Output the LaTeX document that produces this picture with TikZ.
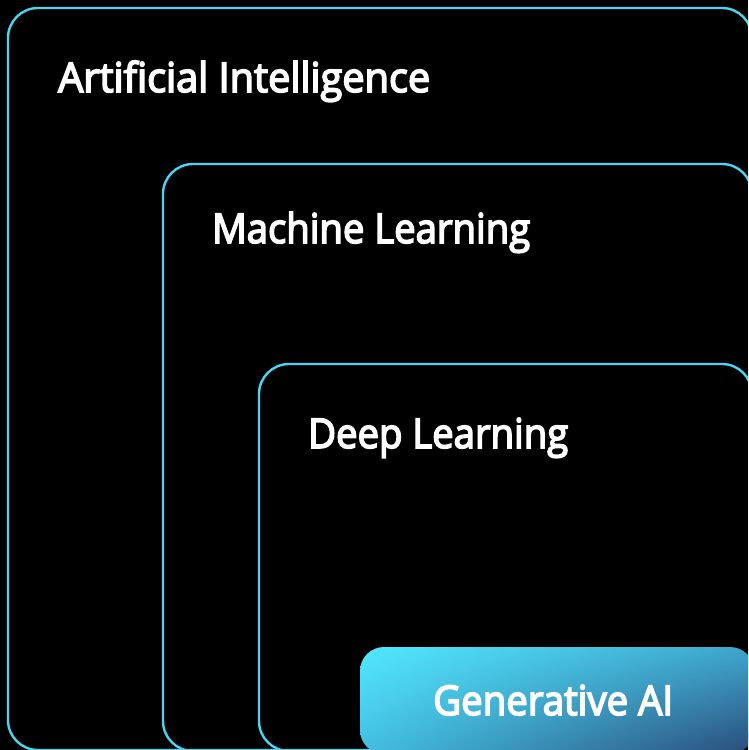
\documentclass[tikz,border=0pt]{standalone}
\usepackage{fontspec}
\setmainfont{Open Sans}
\newfontfamily\lblfont{Open Sans}[FakeBold=4]
\usetikzlibrary{shadings}
\definecolor{linecyan}{RGB}{74,212,240}
\definecolor{gUL}{RGB}{82,232,255}
\definecolor{gUR}{RGB}{62,165,205}
\definecolor{gLL}{RGB}{66,190,225}
\definecolor{gLR}{RGB}{42,74,120}
\begin{document}
\begin{tikzpicture}[x=1pt,y=-1pt,
  layer/.style={draw=linecyan, line width=2.4pt, rounded corners=30pt, anchor=north west, inner sep=0pt, outer sep=0pt},
  genbox/.style={rounded corners=24pt, anchor=north west, inner sep=0pt, outer sep=0pt,
     upper left=gUL, upper right=gUR, lower left=gLL, lower right=gLR},
  lbl/.style={text=white, font=\fontsize{41}{48}\lblfont, anchor=base west, inner sep=0pt}]
\useasboundingbox (0,0) rectangle (748,750);
\clip (0,0) rectangle (748,750);
\fill[black] (0,0) rectangle (748,750);
\node[layer, minimum width=744pt, minimum height=742pt] (aibox) at (8,8) {};
\node[layer, minimum width=589pt, minimum height=587pt] (mlbox) at (163,164) {};
\node[layer, minimum width=493pt, minimum height=387pt] (dlbox) at (259,364) {};
\node[genbox, minimum width=394pt, minimum height=107pt] (genbox) at (360,647) {};
\node[lbl] (ai) at (58,92) {\resizebox{372pt}{\height}{Artificial Intelligence}};
\node[lbl] (ml) at (212,243) {\resizebox{318pt}{\height}{Machine Learning}};
\node[lbl] (dl) at (308,448) {\resizebox{260pt}{\height}{Deep Learning}};
\node[lbl] (gen) at (433,715) {\resizebox{240pt}{\height}{Generative AI}};
\end{tikzpicture}
\end{document}
